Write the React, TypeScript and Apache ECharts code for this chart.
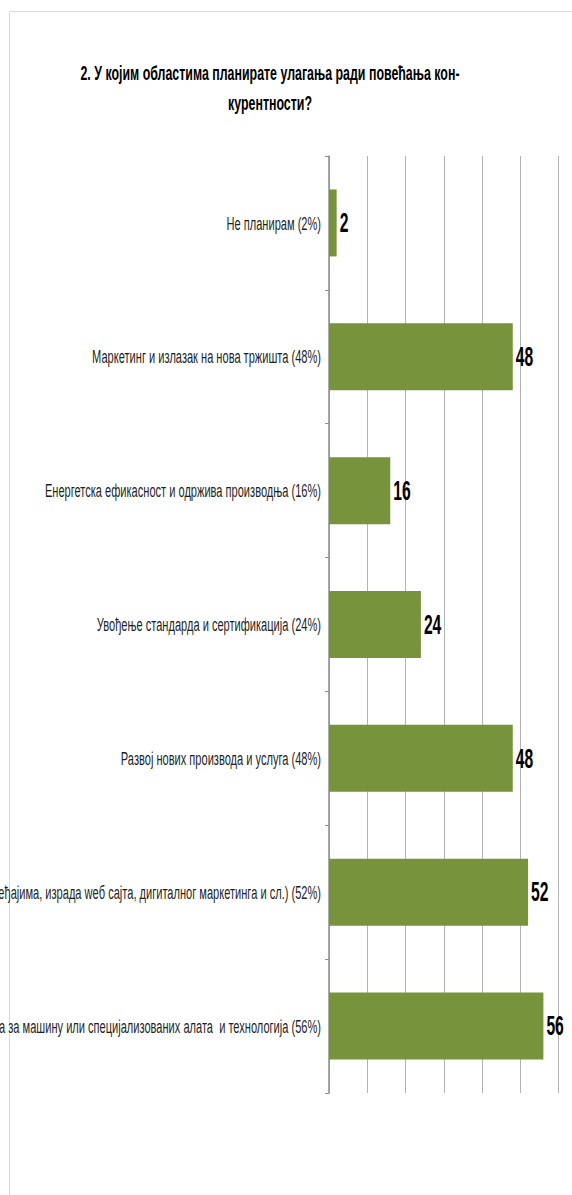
import React, { useEffect, useRef } from "react";
import * as echarts from "echarts";

const categories = [
  "Не планирам (2%)",
  "Маркетинг и излазак на нова тржишта (48%)",
  "Енергетска ефикасност и одржива производња (16%)",
  "Увођење стандарда и сертификација (24%)",
  "Развој нових производа и услуга (48%)",
  "Дигитализација (улагање у рачунаре и уређајима, израда weб сајта, дигиталног маркетинга и сл.) (52%)",
  "Набавка опреме (нове опреме, резервних делова за машину или специјализованих алата  и технологија (56%)",
];
const values = [2, 48, 16, 24, 48, 52, 56];
const titleLines = [
  "2. У којим областима планирате улагања ради повећања кон-",
  "курентности?",
];

const FONT = "'Liberation Sans', Arial, sans-serif";

export default function App() {
  const ref = useRef<HTMLDivElement>(null);
  useEffect(() => {
    if (!ref.current) return;
    const chart = echarts.init(ref.current, null, { renderer: "svg" });
    chart.setOption({
      animation: false,
      backgroundColor: "#ffffff",
      graphic: [
        {
          type: "rect",
          shape: { x: 9.5, y: 11.5, width: 800, height: 1400 },
          style: { fill: "none", stroke: "#d9d9d9", lineWidth: 1 },
          z: -1,
        },
        {
          type: "text",
          x: 270,
          y: 88,
          scaleX: 0.62,
          style: {
            text: titleLines.join("\n"),
            textAlign: "center",
            textVerticalAlign: "middle",
            fontFamily: FONT,
            fontWeight: "bold",
            fontSize: 20,
            lineHeight: 30,
            fill: "#000000",
          },
        },
      ],
      grid: {
        left: 329,
        top: 156,
        width: 268,
        height: 937,
        containLabel: false,
        outerBoundsMode: "none",
      },
      xAxis: {
        type: "value",
        min: 0,
        max: 70,
        interval: 10,
        axisLabel: { show: false },
        axisLine: { show: false },
        axisTick: { show: false },
        splitLine: { show: true, lineStyle: { color: "#b3b3b3", width: 1 } },
      },
      yAxis: {
        type: "category",
        inverse: true,
        data: categories,
        axisLine: { show: true, lineStyle: { color: "#8c8c8c", width: 1.5 } },
        axisTick: { show: true, length: 4, lineStyle: { color: "#8c8c8c" } },
        axisLabel: { show: false },
      },
      series: [
        {
          type: "bar",
          data: values,
          barWidth: 67,
          itemStyle: { color: "#77933c" },
        },
        {
          type: "custom",
          name: "categoryLabels",
          data: categories.map((_, i) => [0, i]),
          renderItem: (params: any, api: any) => {
            const idx = api.value(1);
            const p = api.coord([0, idx]);
            return {
              type: "text",
              x: p[0] - 8,
              y: p[1],
              scaleX: 0.615,
              style: {
                text: categories[idx],
                textAlign: "right",
                textVerticalAlign: "middle",
                fontFamily: FONT,
                fontSize: 18,
                fill: "#1f1f1f",
              },
            };
          },
          silent: true,
          z: 5,
        },
        {
          type: "custom",
          name: "valueLabels",
          data: values.map((v, i) => [v, i]),
          renderItem: (params: any, api: any) => {
            const v = api.value(0);
            const p = api.coord([v, api.value(1)]);
            return {
              type: "text",
              x: p[0] + 3,
              y: p[1],
              scaleX: 0.58,
              style: {
                text: String(v),
                textAlign: "left",
                textVerticalAlign: "middle",
                fontFamily: FONT,
                fontWeight: "bold",
                fontSize: 27,
                fill: "#000000",
              },
            };
          },
          silent: true,
          z: 5,
        },
      ],
    });
    return () => chart.dispose();
  }, []);
  return (
    <div
      style={{
        position: "fixed",
        left: 0,
        top: 0,
        width: 572,
        height: 1195,
        overflow: "hidden",
        background: "#fff",
      }}
    >
      <div ref={ref} style={{ width: 572, height: 1195 }} />
    </div>
  );
}
